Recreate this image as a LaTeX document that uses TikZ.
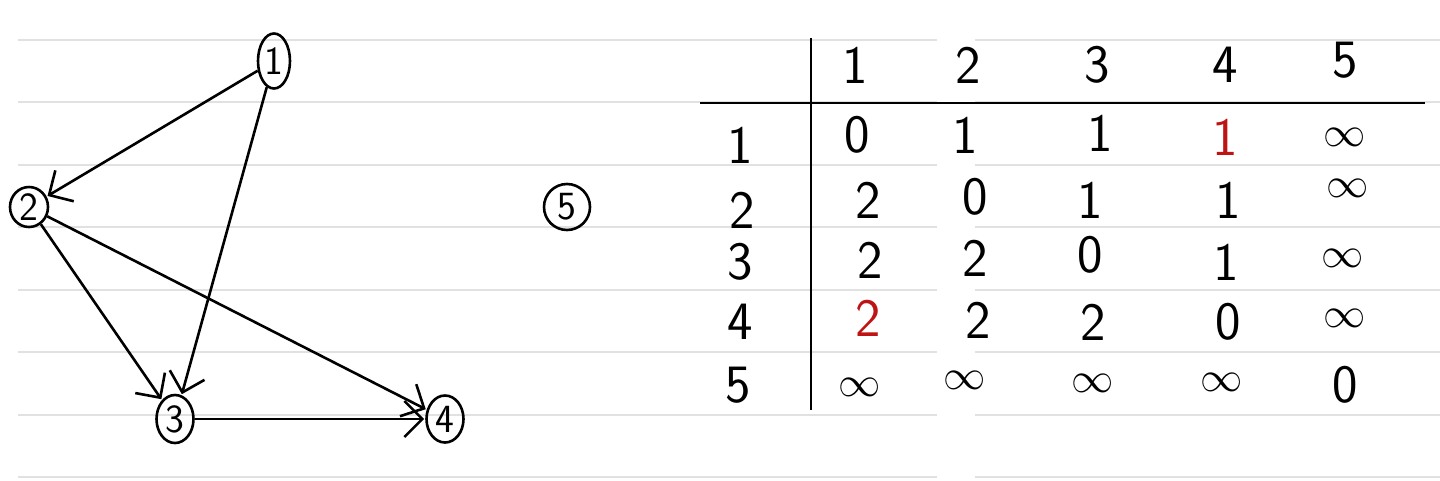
\documentclass[tikz,border=0pt]{standalone}
\usepackage{fontspec}
\usepackage{graphicx}
\usetikzlibrary{arrows.meta,shapes.geometric}
\definecolor{ruled}{RGB}{225,225,225}
\definecolor{inkred}{RGB}{190,20,20}
\newcommand{\inftyhw}{\scalebox{1.7}{$\infty$}}
\tikzset{
  ink/.style={line width=2.6pt,black},
  vert/.style={ellipse,draw,line width=2.6pt,inner sep=0pt,font=\sffamily\fontsize{40}{40}\selectfont},
  edge/.style={ink,-{Straight Barb[length=18pt,width=36pt,line width=2.6pt]},shorten >=1pt},
  cell/.style={font=\sffamily\fontsize{54}{54}\selectfont,inner sep=1pt},
  redcell/.style={cell,text=inkred},
  paper/.style={ruled,line width=1.5pt}
}
\begin{document}
\begin{tikzpicture}[x=1pt,y=-1pt]
\useasboundingbox (0,0) rectangle (1440,480);
\fill[white] (0,0) rectangle (1440,480);
% ruled paper
\foreach \yy in {40,102,165,227,290,352,415,477}{
  \draw[paper] (18,\yy) -- (937,\yy);
  \draw[paper] (975,\yy) -- (1440,\yy);
}
% graph
\node[vert,minimum width=32pt,minimum height=55pt] (n1) at (274,61) {1};
\node[vert,minimum width=38pt,minimum height=40pt] (n2) at (29,207) {2};
\node[vert,minimum width=37pt,minimum height=48pt] (n3) at (175,419) {3};
\node[vert,minimum width=37pt,minimum height=47pt] (n4) at (445,419) {4};
\draw[edge] (n1) -- (n2);
\draw[edge] (n1) -- (n3);
\draw[edge] (n2) -- (n3);
\draw[edge] (n2) -- (n4);
\draw[edge] (n3) -- (n4);
% node 5
\node[vert,circle,minimum size=46pt] (n5) at (567,207) {5};
% table rules
\coordinate (vtop) at (811,38);
\coordinate (vbot) at (811,410);
\coordinate (hl) at (700,103);
\coordinate (hr) at (1425,103);
\draw[ink] (vtop) -- (vbot);
\draw[ink] (hl) -- (hr);
% header
\node[cell] (h1) at (855,65) {1};
\node[cell] (h2) at (968,65) {2};
\node[cell] (h3) at (1097,65) {3};
\node[cell] (h4) at (1225,65) {4};
\node[cell] (h5) at (1345,60) {5};
% row labels
\node[cell] (r1) at (740,145) {1};
\node[cell] (r2) at (742,210) {2};
\node[cell] (r3) at (740,262) {3};
\node[cell] (r4) at (740,322) {4};
\node[cell] (r5) at (738,385) {5};
% row 1
\node[cell] (c11) at (857,135) {0};
\node[cell] (c12) at (965,135) {1};
\node[cell] (c13) at (1100,133) {1};
\node[redcell] (c14) at (1225,137) {1};
\node[cell] (c15) at (1345,137) {\inftyhw};
% row 2
\node[cell] (c21) at (868,200) {2};
\node[cell] (c22) at (975,197) {0};
\node[cell] (c23) at (1090,200) {1};
\node[cell] (c24) at (1228,200) {1};
\node[cell] (c25) at (1348,188) {\inftyhw};
% row 3
\node[cell] (c31) at (870,260) {2};
\node[cell] (c32) at (975,258) {2};
\node[cell] (c33) at (1090,255) {0};
\node[cell] (c34) at (1226,262) {1};
\node[cell] (c35) at (1343,258) {\inftyhw};
% row 4
\node[redcell] (c41) at (868,318) {2};
\node[cell] (c42) at (978,320) {2};
\node[cell] (c43) at (1093,322) {2};
\node[cell] (c44) at (1228,322) {0};
\node[cell] (c45) at (1345,318) {\inftyhw};
% row 5
\node[cell] (c51) at (860,387) {\inftyhw};
\node[cell] (c52) at (965,380) {\inftyhw};
\node[cell] (c53) at (1093,383) {\inftyhw};
\node[cell] (c54) at (1222,382) {\inftyhw};
\node[cell] (c55) at (1345,385) {0};
\end{tikzpicture}
\end{document}
